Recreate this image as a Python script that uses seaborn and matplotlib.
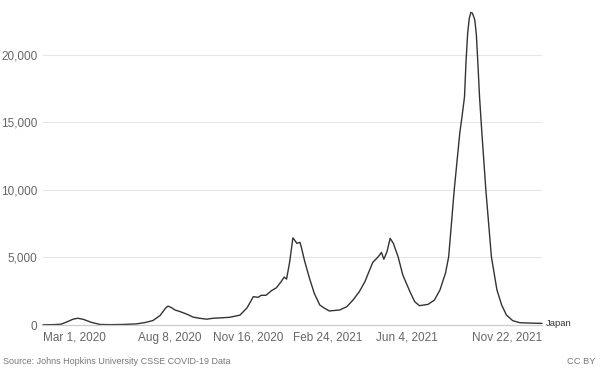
import pandas as pd
import matplotlib.pyplot as plt
import matplotlib.ticker as mticker
import seaborn as sns

# Japan, daily new confirmed cases (7-day average)
dates = [
    "2020-03-01", "2020-03-15", "2020-03-24", "2020-04-01", "2020-04-08", "2020-04-14",
    "2020-04-21", "2020-05-01", "2020-05-12", "2020-05-25", "2020-06-10", "2020-06-27",
    "2020-07-08", "2020-07-18", "2020-07-27", "2020-08-03", "2020-08-06", "2020-08-10",
    "2020-08-15", "2020-08-21", "2020-08-30", "2020-09-07", "2020-09-15", "2020-09-24",
    "2020-10-02", "2020-10-12", "2020-10-23", "2020-11-05", "2020-11-14", "2020-11-22",
    "2020-11-28", "2020-12-02", "2020-12-08", "2020-12-15", "2020-12-21", "2020-12-27",
    "2020-12-31", "2021-01-03", "2021-01-07", "2021-01-11", "2021-01-13", "2021-01-16",
    "2021-01-20", "2021-01-22", "2021-01-26", "2021-02-01", "2021-02-07", "2021-02-14",
    "2021-02-20", "2021-02-26", "2021-03-11", "2021-03-20", "2021-03-28", "2021-04-05",
    "2021-04-12", "2021-04-18", "2021-04-22", "2021-04-29", "2021-05-03", "2021-05-06",
    "2021-05-10", "2021-05-14", "2021-05-18", "2021-05-24", "2021-05-30", "2021-06-08",
    "2021-06-14", "2021-06-20", "2021-07-01", "2021-07-09", "2021-07-16", "2021-07-23",
    "2021-07-27", "2021-08-03", "2021-08-10", "2021-08-13", "2021-08-16", "2021-08-18",
    "2021-08-20", "2021-08-22", "2021-08-24", "2021-08-26", "2021-08-29", "2021-08-31",
    "2021-09-02", "2021-09-04", "2021-09-07", "2021-09-12", "2021-09-19", "2021-09-26",
    "2021-10-02", "2021-10-08", "2021-10-16", "2021-10-25", "2021-11-08", "2021-11-22",
]
cases = [
    10, 30, 60, 250, 430, 500,
    420, 200, 40, 25, 40, 80,
    180, 330, 700, 1250, 1400, 1300,
    1110, 1000, 800, 580, 500, 430,
    500, 530, 570, 730, 1270, 2100,
    2050, 2200, 2200, 2550, 2750, 3200,
    3550, 3400, 4700, 6450, 6300, 6050,
    6120, 5680, 4700, 3460, 2350, 1480,
    1240, 1040, 1110, 1350, 1850, 2470,
    3200, 4070, 4640, 5060, 5380, 4870,
    5430, 6420, 6050, 5060, 3700, 2470,
    1730, 1430, 1530, 1850, 2600, 3850,
    5060, 10000, 14200, 15500, 16900, 19600,
    21600, 22700, 23150, 23100, 22600, 21500,
    19300, 16900, 14200, 10000, 5060, 2600,
    1480, 740, 320, 170, 140, 120,
]
tick_dates = ["2020-03-01", "2020-08-08", "2020-11-16", "2021-02-24", "2021-06-04", "2021-11-22"]
tick_labels = ["Mar 1, 2020", "Aug 8, 2020", "Nov 16, 2020", "Feb 24, 2021", "Jun 4, 2021", "Nov 22, 2021"]
y_ticks = [0, 5000, 10000, 15000, 20000]

df = pd.DataFrame({"date": pd.to_datetime(dates), "cases": cases})

sns.set_style("white")
plt.rcParams["font.family"] = ["Liberation Sans", "DejaVu Sans"]

fig = plt.figure(figsize=(6, 3.75), dpi=100)
ax = fig.add_axes([43 / 600, 50 / 375, 499 / 600, 317 / 375])

sns.lineplot(data=df, x="date", y="cases", ax=ax, color="#333333", linewidth=1.0)
for ln in ax.lines:
    ln.set_clip_on(False)

ax.set_xlim(pd.Timestamp(tick_dates[0]), pd.Timestamp(tick_dates[-1]))
ax.set_ylim(0, 23480)
ax.set_xlabel("")
ax.set_ylabel("")

ax.set_yticks(y_ticks)
ax.yaxis.set_major_formatter(mticker.FuncFormatter(lambda v, p: f"{int(v):,}"))
for y in y_ticks[1:]:
    ax.axhline(y, color="#e6e6e6", linewidth=0.8, zorder=0)

ax.set_xticks(pd.to_datetime(tick_dates))
ax.set_xticklabels(tick_labels)
xl = ax.get_xticklabels()
xl[0].set_ha("left")
xl[-1].set_ha("right")

ax.tick_params(axis="x", length=3, width=0.8, color="#cccccc", pad=2,
               labelsize=8.5, labelcolor="#666666")
ax.tick_params(axis="y", length=0, pad=4, labelsize=8.5, labelcolor="#666666")

for s in ["top", "right", "left"]:
    ax.spines[s].set_visible(False)
ax.spines["bottom"].set_color("#cccccc")
ax.spines["bottom"].set_linewidth(0.9)

ax.annotate("Japan", xy=(df["date"].iloc[-1], df["cases"].iloc[-1]),
            xytext=(4, 0), textcoords="offset pixels", va="center", ha="left",
            fontsize=6.8, color="#333333", annotation_clip=False)

fig.text(3 / 600, 1 - 362 / 375, "Source: Johns Hopkins University CSSE COVID-19 Data",
         fontsize=6.5, color="#777777", va="center", ha="left")
fig.text(595 / 600, 1 - 362 / 375, "CC BY", fontsize=6.7, color="#777777",
         va="center", ha="right")

fig.savefig("out.png", dpi=100)
